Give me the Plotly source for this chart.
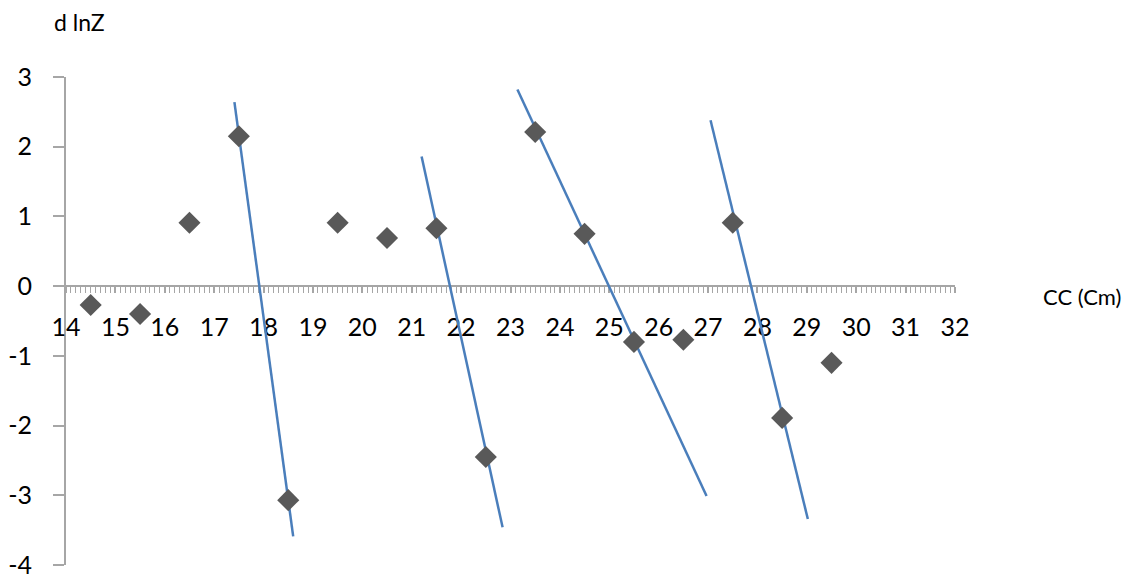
import plotly.graph_objects as go

# Data points (CC, d lnZ)
cc = [14.5, 15.5, 16.5, 17.5, 18.5, 19.5, 20.5, 21.5, 22.5, 23.5, 24.5, 25.5, 26.5, 27.5, 28.5, 29.5]
dlnz = [-0.27, -0.40, 0.91, 2.15, -3.07, 0.91, 0.69, 0.83, -2.45, 2.21, 0.75, -0.80, -0.77, 0.91, -1.89, -1.10]

# Fitted line segments (endpoints)
line1_x = [17.41, 18.60]
line1_y = [2.64, -3.59]
line2_x = [21.20, 22.84]
line2_y = [1.86, -3.46]
line3_x = [23.14, 26.97]
line3_y = [2.82, -3.01]
line4_x = [27.05, 29.02]
line4_y = [2.38, -3.34]

x_range = [14, 32]
y_range = [-4, 3]
y_tickvals = [-4, -3, -2, -1, 0, 1, 2, 3]
y_ticktext = ["-4", "-3", "-2", "-1", "0", "1", "2", "3"]

fig = go.Figure()
line_color = "#4a7ebb"
for lx, ly in [(line1_x, line1_y), (line2_x, line2_y), (line3_x, line3_y), (line4_x, line4_y)]:
    fig.add_trace(go.Scatter(x=lx, y=ly, mode="lines",
                             line=dict(color=line_color, width=2.5), showlegend=False))

fig.add_trace(go.Scatter(x=cc, y=dlnz, mode="markers",
                         marker=dict(symbol="diamond", size=17, color="#595959"),
                         showlegend=False))

axis_gray = "#a6a6a6"
# page body has an 8px margin; compensate so the figure fills the window
OFF = 8
W, H = 1131 - OFF, 576 - OFF
L, R, T, B = 66 - OFF, 176, 77 - OFF, 11
fig.update_layout(
    width=W, height=H,
    margin=dict(l=L, r=R, t=T, b=B, autoexpand=False),
    plot_bgcolor="white", paper_bgcolor="white",
    font=dict(family="Lato", size=25, color="#000000"),
    xaxis=dict(range=x_range, dtick=1, tick0=14, anchor="free", position=4/7,
               automargin=False, ticklabeloverflow="allow",
               showgrid=False, zeroline=False, showline=True, linecolor=axis_gray, linewidth=2,
               ticks="outside", ticklen=6, tickwidth=1.5, tickcolor=axis_gray,
               minor=dict(dtick=0.1, ticks="outside", ticklen=6, tickwidth=1, tickcolor=axis_gray, showgrid=False),
               ticklabelstandoff=13, layer="below traces"),
    yaxis=dict(range=y_range, tickmode="array", tickvals=y_tickvals, ticktext=y_ticktext,
               showgrid=False, zeroline=False, showline=True,
               automargin=False, ticklabeloverflow="allow",
               linecolor=axis_gray, linewidth=2, ticks="outside", ticklen=11, tickwidth=2,
               tickcolor=axis_gray, ticklabelstandoff=16, layer="below traces"),
)

pw = W - L - R
ph = H - T - B
def px_to_paper(px, py):
    # px, py are screen pixels in the window
    return (px - OFF - L) / pw, (H - B - (py - OFF)) / ph

ax, ay = px_to_paper(79, 22)
fig.add_annotation(text="d lnZ", x=ax, y=ay, xref="paper", yref="paper", showarrow=False,
                   xanchor="center", yanchor="middle", font=dict(size=23, family="Lato"))
ax, ay = px_to_paper(1082, 296)
fig.add_annotation(text="CC (Cm)", x=ax, y=ay, xref="paper", yref="paper", showarrow=False,
                   xanchor="center", yanchor="middle", font=dict(size=22, family="Lato"))

fig.write_html("out.html")
